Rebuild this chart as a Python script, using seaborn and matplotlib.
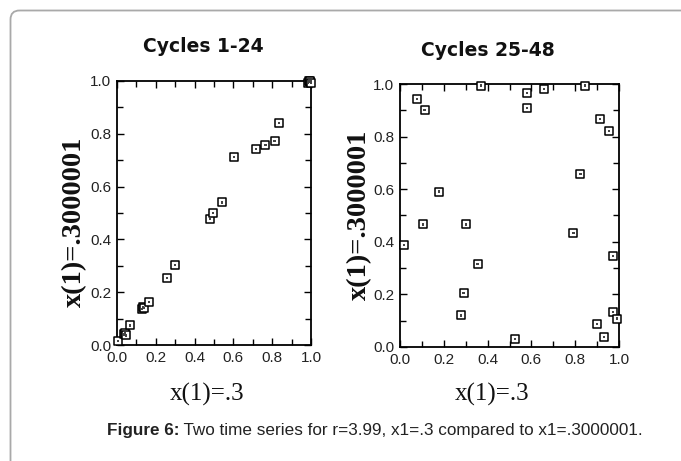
import matplotlib
matplotlib.use("Agg")
import matplotlib.pyplot as plt
import seaborn as sns
import pandas as pd
from matplotlib.patches import FancyBboxPatch
from matplotlib.ticker import MultipleLocator

# ---- data ----
titles = ["Cycles 1-24", "Cycles 25-48"]
xlabel = "x(1)=.3"
ylabel = "x(1)=.3000001"
caption_bold = "Figure 6:"
caption_rest = " Two time series for r=3.99, x1=.3 compared to x1=.3000001."
tick_vals = [0.0, 0.2, 0.4, 0.6, 0.8, 1.0]
tick_labels = ["0.0", "0.2", "0.4", "0.6", "0.8", "1.0"]

x_a = [0.007, 0.038, 0.043, 0.047, 0.069, 0.130, 0.136, 0.140, 0.166, 0.257, 0.300, 0.480,
       0.496, 0.540, 0.603, 0.715, 0.765, 0.812, 0.834, 0.986, 0.990, 0.994, 0.997, 0.999]
y_a = [0.015, 0.040, 0.045, 0.036, 0.074, 0.137, 0.145, 0.140, 0.164, 0.254, 0.302, 0.478,
       0.499, 0.540, 0.713, 0.743, 0.757, 0.772, 0.841, 0.994, 1.000, 0.996, 0.999, 0.993]

x_b = [0.018, 0.079, 0.112, 0.106, 0.178, 0.277, 0.290, 0.301, 0.354, 0.369, 0.526, 0.579,
       0.579, 0.658, 0.792, 0.824, 0.843, 0.901, 0.915, 0.930, 0.954, 0.974, 0.974, 0.992]
y_b = [0.387, 0.944, 0.901, 0.466, 0.591, 0.120, 0.204, 0.466, 0.316, 0.994, 0.029, 0.966,
       0.909, 0.980, 0.432, 0.657, 0.994, 0.086, 0.868, 0.037, 0.820, 0.346, 0.134, 0.108]

sns.set_theme(style="white")
plt.rcParams["font.family"] = ["Liberation Sans", "DejaVu Sans"]

W, H = 681, 461
fig = plt.figure(figsize=(W / 100, H / 100), dpi=100)
fig.patch.set_facecolor("white")

# background frame (pixel coordinates)
bg = fig.add_axes([0, 0, 1, 1], zorder=-5)
bg.set_xlim(0, W)
bg.set_ylim(H, 0)
bg.axis("off")
bg.add_patch(FancyBboxPatch((10.5, 10.5), W + 40, H + 20, boxstyle="round,pad=0,rounding_size=9",
                            fill=False, edgecolor="#a9a9a9", linewidth=1.3))

def px_rect(l, t, r, b):
    return [l / W, 1 - b / H, (r - l) / W, (b - t) / H]

axes_rects = [px_rect(117, 81, 311, 345), px_rect(400, 84, 619, 347)]
datasets = [(x_a, y_a), (x_b, y_b)]
title_pos = [(203, 47), (488, 50)]
ylabel_pos = [(75, 222), (360, 215)]
xlabel_pos = [(207, 394), (492, 394)]

for i, (rect, (xs, ys)) in enumerate(zip(axes_rects, datasets)):
    ax = fig.add_axes(rect)
    df = pd.DataFrame({"x": xs, "y": ys})
    sns.scatterplot(data=df, x="x", y="y", ax=ax, marker="s", s=28,
                    facecolor="white", edgecolor="black", linewidth=1.1, zorder=3, clip_on=False)
    sns.scatterplot(data=df, x="x", y="y", ax=ax, marker="s", s=2.5,
                    color="#444444", edgecolor="none", zorder=4, clip_on=False)
    ax.set_xlim(0, 1)
    ax.set_ylim(0, 1)
    ax.set_xticks(tick_vals)
    ax.set_xticklabels(tick_labels)
    ax.set_yticks(tick_vals)
    ax.set_yticklabels(tick_labels)
    ax.xaxis.set_minor_locator(MultipleLocator(0.1))
    ax.yaxis.set_minor_locator(MultipleLocator(0.1))
    ax.tick_params(which="both", direction="in", top=True, right=True, bottom=True, left=True,
                   color="black", width=1.0)
    ax.tick_params(which="major", length=5, labelsize=11, pad=4, labelcolor="#222222")
    ax.tick_params(which="minor", length=4)
    for sp in ax.spines.values():
        sp.set_visible(True)
        sp.set_color("black")
        sp.set_linewidth(1.3)
    ax.set_xlabel("")
    ax.set_ylabel("")
    ax.set_facecolor("white")

    tx, ty = title_pos[i]
    fig.text(tx / W, 1 - ty / H, titles[i], ha="center", va="center",
             fontsize=13.5, fontweight="bold", family=["DejaVu Sans"], color="#111111")
    lx, ly = ylabel_pos[i]
    fig.text(lx / W, 1 - ly / H, ylabel, ha="center", va="center", rotation=90,
             fontsize=20.5, fontweight="bold", family=["Liberation Serif"], color="#111111")
    xx, xy = xlabel_pos[i]
    fig.text(xx / W, 1 - xy / H, xlabel, ha="center", va="center",
             fontsize=18, family=["Liberation Serif"], color="#111111")

# caption with bold prefix
fig.canvas.draw()
renderer = fig.canvas.get_renderer()
cap_y = 1 - 430 / H
t1 = fig.text(0, cap_y, caption_bold, ha="left", va="center", fontsize=12.3,
              fontweight="bold", color="#222222")
t2 = fig.text(0, cap_y, caption_rest, ha="left", va="center", fontsize=12.3, color="#222222")
w1 = t1.get_window_extent(renderer).width
w2 = t2.get_window_extent(renderer).width
end = 643
start = end - (w1 + w2)
t1.set_x(start / W)
t2.set_x((start + w1) / W)

fig.savefig("out.png", dpi=100)
